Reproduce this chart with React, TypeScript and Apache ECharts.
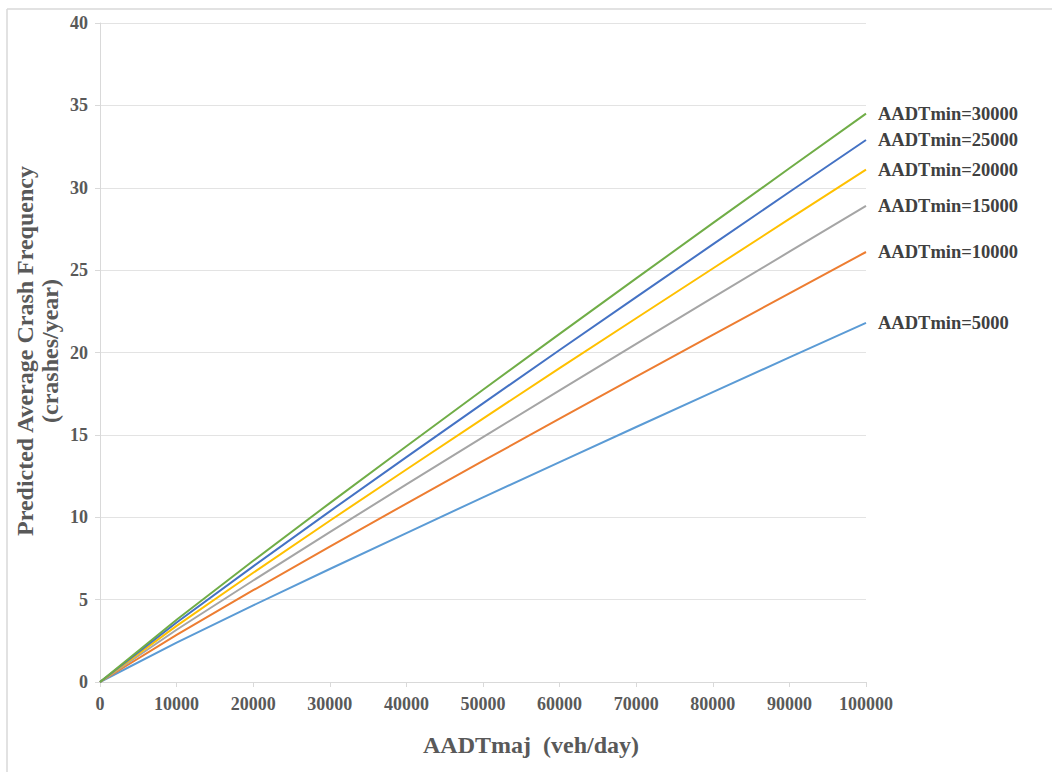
import React, { useEffect, useRef } from "react";
import * as echarts from "echarts";

const xValues = [0, 10000, 20000, 30000, 40000, 50000, 60000, 70000, 80000, 90000, 100000];
const seriesNames = ["5000", "10000", "15000", "20000", "25000", "30000"];
const min5000 = [0, 2.39, 4.65, 6.86, 9.04, 11.21, 13.35, 15.48, 17.6, 19.7, 21.8];
const min10000 = [0, 2.86, 5.57, 8.22, 10.83, 13.42, 15.98, 18.53, 21.07, 23.59, 26.1];
const min15000 = [0, 3.17, 6.16, 9.1, 11.99, 14.86, 17.7, 20.52, 23.33, 26.12, 28.9];
const min20000 = [0, 3.41, 6.63, 9.79, 12.9, 15.99, 19.05, 22.08, 25.1, 28.11, 31.1];
const min25000 = [0, 3.61, 7.02, 10.36, 13.65, 16.91, 20.15, 23.36, 26.56, 29.74, 32.9];
const min30000 = [0, 3.78, 7.36, 10.86, 14.31, 17.74, 21.13, 24.5, 27.85, 31.18, 34.5];
const seriesValues = [min5000, min10000, min15000, min20000, min25000, min30000];
const seriesColors = ["#5B9BD5", "#ED7D31", "#A5A5A5", "#FFC000", "#4472C4", "#70AD47"];

const FONT = "'Liberation Serif', 'Times New Roman', serif";

export default function App() {
  const ref = useRef<HTMLDivElement>(null);
  useEffect(() => {
    if (!ref.current) return;
    const chart = echarts.init(ref.current, null, { renderer: "svg" });
    const series = seriesNames.map((name, i) => ({
      name: "AADTmin=" + name,
      type: "line",
      showSymbol: false,
      symbol: "none",
      data: xValues.map((x, j) => [x, seriesValues[i][j]]),
      lineStyle: { color: seriesColors[i], width: 2 },
      itemStyle: { color: seriesColors[i] },
      endLabel: {
        show: true,
        formatter: "AADTmin=" + name,
        distance: 12,
        fontFamily: FONT,
        fontWeight: "bold",
        fontSize: 18.5,
        color: "#404040",
      },
    }));
    chart.setOption({
      animation: false,
      backgroundColor: "#ffffff",
      grid: { left: 100, right: 186, top: 23, bottom: 90, containLabel: false },
      xAxis: {
        type: "value",
        min: 0,
        max: 100000,
        interval: 10000,
        axisLine: { show: true, lineStyle: { color: "#D9D9D9", width: 1 } },
        axisTick: { show: true, length: 5, lineStyle: { color: "#D9D9D9" } },
        splitLine: { show: false },
        axisLabel: {
          margin: 13,
          fontFamily: FONT,
          fontWeight: "bold",
          fontSize: 18,
          color: "#595959",
          showMinLabel: true,
          showMaxLabel: true,
          formatter: (v: number) => String(v),
        },
      },
      yAxis: {
        type: "value",
        min: 0,
        max: 40,
        interval: 5,
        axisLine: { show: true, lineStyle: { color: "#D9D9D9", width: 1 } },
        axisTick: { show: true, length: 5, lineStyle: { color: "#D9D9D9" } },
        splitLine: { show: true, lineStyle: { color: "#E3E3E3", width: 1 } },
        axisLabel: {
          margin: 12,
          fontFamily: FONT,
          fontWeight: "bold",
          fontSize: 18,
          color: "#595959",
        },
      },
      graphic: [
        { type: "line", shape: { x1: 7, y1: 9, x2: 1052, y2: 9 }, style: { stroke: "#D9D9D9", lineWidth: 1.5 } },
        { type: "line", shape: { x1: 7, y1: 9, x2: 7, y2: 772 }, style: { stroke: "#D9D9D9", lineWidth: 1.5 } },
        {
          type: "text",
          x: 37,
          y: 351,
          rotation: Math.PI / 2,
          style: {
            text: "Predicted Average Crash Frequency\n(crashes/year)",
            fontFamily: FONT,
            fontWeight: "bold",
            fontSize: 24,
            lineHeight: 25,
            fill: "#595959",
            align: "center",
            verticalAlign: "middle",
          },
        },
        {
          type: "text",
          x: 531,
          y: 745,
          style: {
            text: "AADTmaj  (veh/day)",
            fontFamily: FONT,
            fontWeight: "bold",
            fontSize: 24,
            fill: "#595959",
            align: "center",
            verticalAlign: "middle",
          },
        },
      ],
      series,
    });
    return () => chart.dispose();
  }, []);
  return (
    <div
      ref={ref}
      style={{ position: "absolute", left: 0, top: 0, width: 1052, height: 772, background: "#fff" }}
    />
  );
}
